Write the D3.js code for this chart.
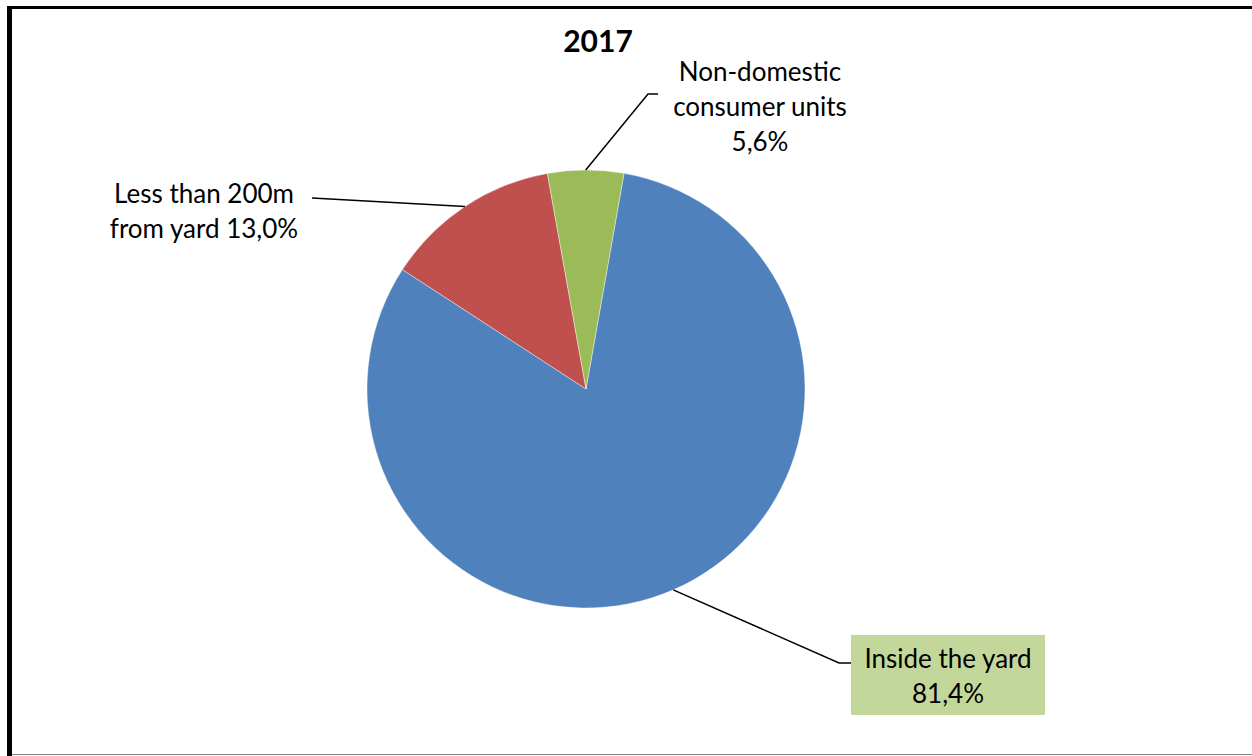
<!DOCTYPE html>
<html>
<head>
<meta charset="utf-8">
<script src="https://cdn.jsdelivr.net/npm/d3@7"></script>
<style>
  html, body { margin: 0; padding: 0; background: #fff; }
  svg { display: block; }
  text { font-family: Lato, "Open Sans", sans-serif; fill: #000; }
</style>
</head>
<body>
<svg id="chart" width="1252" height="756"></svg>
<script>
// Water supply location, share of households (2017)
const categories = ["Inside the yard", "Less than 200m from yard", "Non-domestic consumer units"];
const values = [81.4, 13.0, 5.6];
const labelLines = [
  ["Inside the yard", "81,4%"],
  ["Less than 200m", "from yard 13,0%"],
  ["Non-domestic", "consumer units", "5,6%"]
];
const colors = ["#4F81BD", "#C0504D", "#9BBB59"];
const title = "2017";

const svg = d3.select("#chart");
const W = 1252, H = 756;

// chart frame (extends past the right and bottom edges)
svg.append("rect").attr("x", 0).attr("y", 0).attr("width", W).attr("height", H).attr("fill", "#fff");
svg.append("line").attr("x1", 7).attr("x2", W).attr("y1", 7.5).attr("y2", 7.5)
  .attr("stroke", "#000").attr("stroke-width", 3);
svg.append("line").attr("x1", 9.5).attr("x2", 9.5).attr("y1", 6).attr("y2", H)
  .attr("stroke", "#000").attr("stroke-width", 5);
svg.append("line").attr("x1", 12).attr("x2", W).attr("y1", 754.5).attr("y2", 754.5)
  .attr("stroke", "#808080").attr("stroke-width", 1.2);

// title
svg.append("text").attr("x", 598).attr("y", 52).attr("text-anchor", "middle")
  .style("font-weight", "bold").style("font-size", "30px").text(title);

const cx = 586, cy = 389, R = 219;
const startAngle = 10 * Math.PI / 180;

const pie = d3.pie().sort(null).value(d => d)
  .startAngle(startAngle).endAngle(startAngle + 2 * Math.PI);
const arcs = pie(values);
const arc = d3.arc().innerRadius(0).outerRadius(R);

const g = svg.append("g").attr("transform", `translate(${cx},${cy})`);
g.selectAll("path.slice").data(arcs).join("path")
  .attr("class", "slice")
  .attr("d", arc)
  .attr("fill", (d, i) => colors[i])
  .attr("stroke", "#fff").attr("stroke-width", 0.4);

// data label layout: text centre x, first baseline y, leader elbow, leader end
const labelLayout = [
  { x: 948, y: 668, elbow: [839, 663], end: [851, 663], box: [851, 635, 194, 80], fill: "#C4D79B" },
  { x: 204, y: 203, elbow: null, end: [312, 198] },
  { x: 760, y: 81, elbow: [648, 94], end: [658, 94] }
];
const lineGap = 35;

arcs.forEach((a, i) => {
  const L = labelLayout[i];
  const mid = (a.startAngle + a.endAngle) / 2;
  const p0 = [cx + R * Math.sin(mid), cy - R * Math.cos(mid)];
  const pts = [p0];
  if (L.elbow) pts.push(L.elbow);
  pts.push(L.end);
  svg.append("path").attr("d", d3.line()(pts))
    .attr("fill", "none").attr("stroke", "#000").attr("stroke-width", 1.5);
  if (L.box) {
    svg.append("rect").attr("x", L.box[0]).attr("y", L.box[1])
      .attr("width", L.box[2]).attr("height", L.box[3]).attr("fill", L.fill);
  }
  const t = svg.append("text").attr("text-anchor", "middle").style("font-size", "26px");
  labelLines[i].forEach((s, k) => {
    t.append("tspan").attr("x", L.x).attr("y", L.y + k * lineGap).text(s);
  });
});
</script>
</body>
</html>
